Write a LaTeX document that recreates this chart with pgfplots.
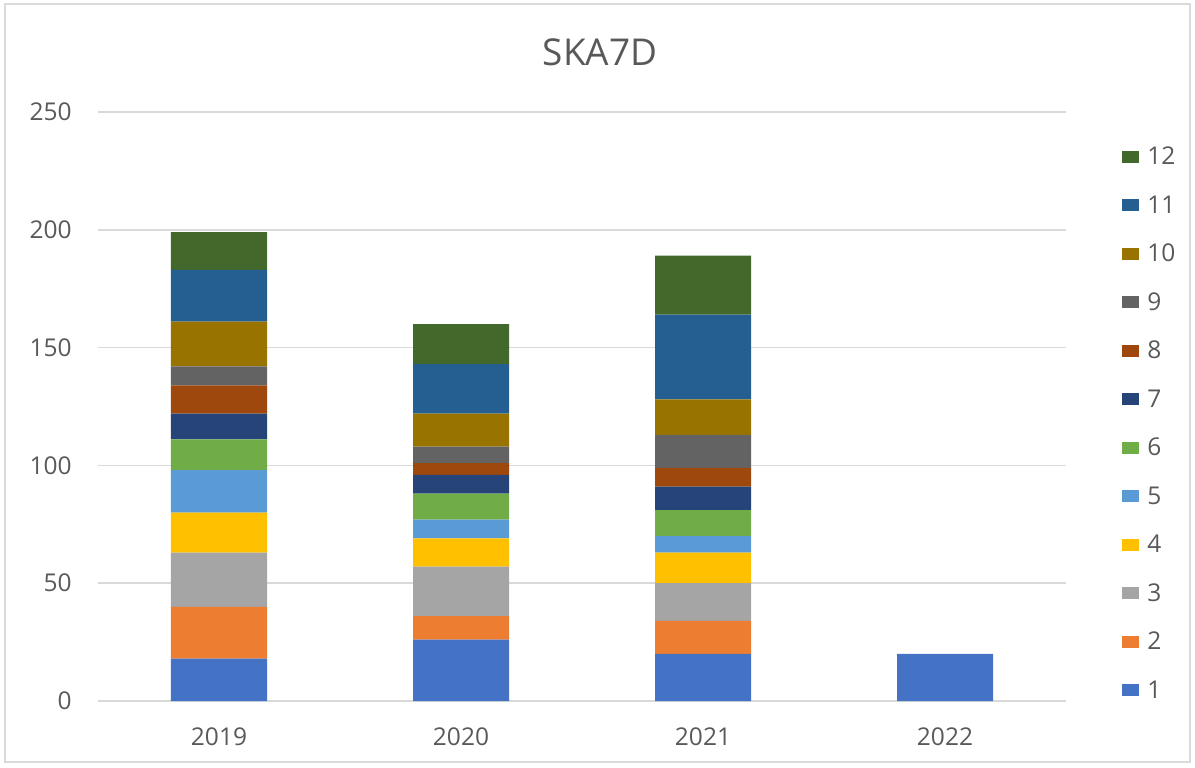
\documentclass[border=0pt]{standalone}
\usepackage{fontspec}
\setmainfont{Open Sans}
\usepackage{pgfplots}
\usepackage{pgfplotstable}
\pgfplotsset{compat=1.18}
\definecolor{txt}{HTML}{595959}
\definecolor{gridgray}{HTML}{D9D9D9}
\definecolor{c1}{HTML}{4472C4}
\definecolor{c2}{HTML}{ED7D31}
\definecolor{c3}{HTML}{A5A5A5}
\definecolor{c4}{HTML}{FFC000}
\definecolor{c5}{HTML}{5B9BD5}
\definecolor{c6}{HTML}{70AD47}
\definecolor{c7}{HTML}{264478}
\definecolor{c8}{HTML}{9E480E}
\definecolor{c9}{HTML}{636363}
\definecolor{c10}{HTML}{997300}
\definecolor{c11}{HTML}{255E91}
\definecolor{c12}{HTML}{43682B}

% yearly counts per series, x = 0..3 for 2019..2022
\pgfplotstableread{
x  s1 s2 s3 s4 s5 s6 s7 s8 s9 s10 s11 s12
0  18 22 23 17 18 13 11 12 8  19  22  16
1  26 10 21 12 8  11 8  5  7  14  21  17
2  20 14 16 13 7  11 10 8  14 15  36  25
3  20 0  0  0  0  0  0  0  0  0   0   0
}\skadata

\begin{document}
\begin{tikzpicture}
\path[use as bounding box] (-49pt,-33pt) rectangle (548.5pt,350.5pt);
\draw[gridgray, line width=0.8pt] (-46.5pt,-30.5pt) rectangle (546pt,348.5pt);
\begin{axis}[
  scale only axis,
  width=484pt, height=294.5pt,
  ybar stacked,
  bar width=48pt,
  xmin=-0.5, xmax=3.5,
  ymin=0, ymax=250,
  ytick={0,50,...,250},
  xtick={0,1,2,3},
  xticklabels={2019,2020,2021,2022},
  ymajorgrids, xmajorgrids=false,
  grid style={draw=gridgray, line width=0.8pt},
  axis line style={draw=none},
  major tick length=0pt,
  /pgf/number format/assume math mode=true,
  tick label style={font=\fontsize{12.25}{14}\selectfont, text=txt, inner sep=0pt},
  yticklabel style={anchor=east, xshift=-13pt},
  xticklabel style={anchor=north, yshift=-13pt},
  title={SKA7D},
  title style={at={(0.5186,1)}, anchor=center, yshift=24pt, font=\fontsize{18.5}{21}\selectfont, text=txt},
  reverse legend,
  legend cell align=left,
  legend style={at={(1.0517,0.471)}, anchor=west, draw=none, fill=none,
    font=\fontsize{12.25}{14}\selectfont, text=txt,
    row sep=0pt,
    nodes={inner sep=0pt, text height=16pt, text depth=8.25pt}},
  legend image code/.code={\fill[#1] (0pt,-3pt) rectangle (8.5pt,3pt); \path (12.5pt,0pt);},
]
\addplot[fill=c1,  draw=none] table[x=x, y=s1]  {\skadata}; \addlegendentry{1}
\addplot[fill=c2,  draw=none] table[x=x, y=s2]  {\skadata}; \addlegendentry{2}
\addplot[fill=c3,  draw=none] table[x=x, y=s3]  {\skadata}; \addlegendentry{3}
\addplot[fill=c4,  draw=none] table[x=x, y=s4]  {\skadata}; \addlegendentry{4}
\addplot[fill=c5,  draw=none] table[x=x, y=s5]  {\skadata}; \addlegendentry{5}
\addplot[fill=c6,  draw=none] table[x=x, y=s6]  {\skadata}; \addlegendentry{6}
\addplot[fill=c7,  draw=none] table[x=x, y=s7]  {\skadata}; \addlegendentry{7}
\addplot[fill=c8,  draw=none] table[x=x, y=s8]  {\skadata}; \addlegendentry{8}
\addplot[fill=c9,  draw=none] table[x=x, y=s9]  {\skadata}; \addlegendentry{9}
\addplot[fill=c10, draw=none] table[x=x, y=s10] {\skadata}; \addlegendentry{10}
\addplot[fill=c11, draw=none] table[x=x, y=s11] {\skadata}; \addlegendentry{11}
\addplot[fill=c12, draw=none] table[x=x, y=s12] {\skadata}; \addlegendentry{12}
\end{axis}
\end{tikzpicture}
\end{document}
